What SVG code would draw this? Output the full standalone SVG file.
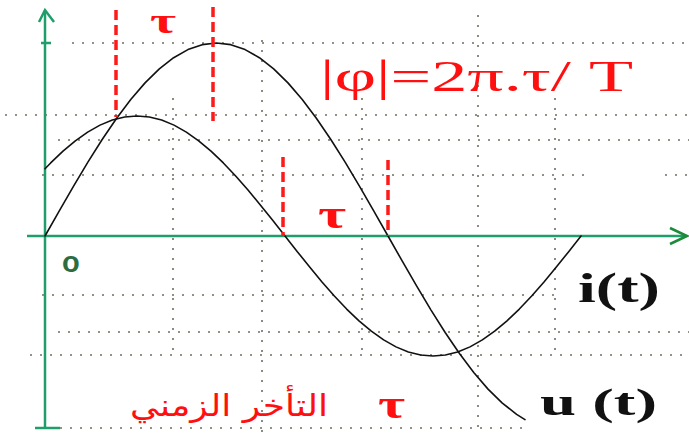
<svg xmlns="http://www.w3.org/2000/svg" width="689" height="433" viewBox="0 0 689 433">
<style>
.grid{stroke:#6f6f60;stroke-width:1.6;stroke-dasharray:2 8;fill:none}
.axis{stroke:#1e9e6a;stroke-width:2.5;fill:none}
.curve{stroke:#111;stroke-width:1.6;fill:none;stroke-linejoin:round;stroke-linecap:round}
.red{stroke:#ff1a1a;stroke-width:3.5;stroke-dasharray:10 5;fill:none}
.tau{font-family:"Liberation Serif",serif;font-weight:bold;font-size:42px;fill:#ff1010}
.lbl{font-family:"Liberation Serif",serif;font-weight:bold;fill:#111}
</style>
<rect width="689" height="433" fill="#fff"/>
<g id="grid">
<line class="grid" x1="72" y1="43" x2="689" y2="43"/>
<line class="grid" x1="5" y1="115" x2="689" y2="115"/>
<line class="grid" x1="58" y1="140" x2="689" y2="140"/>
<line class="grid" x1="42" y1="175" x2="585" y2="175"/>
<line class="grid" x1="665" y1="175" x2="689" y2="175"/>
<line class="grid" x1="42" y1="295" x2="560" y2="295"/>
<line class="grid" x1="58" y1="332" x2="689" y2="332"/>
<line class="grid" x1="30" y1="355" x2="689" y2="355"/>
<line class="grid" x1="60" y1="428" x2="530" y2="428"/>
<line class="grid" x1="173" y1="98" x2="173" y2="358"/>
<line class="grid" x1="262" y1="40" x2="262" y2="433"/>
<line class="grid" x1="362" y1="98" x2="362" y2="358"/>
<line class="grid" x1="478" y1="15" x2="478" y2="433"/>
<line class="grid" x1="555" y1="98" x2="555" y2="358"/>
</g>
<g id="axes">
<line class="axis" x1="45" y1="10" x2="45" y2="428"/>
<polyline class="axis" points="39,22 45,10 54,22"/>
<line class="axis" x1="41" y1="43" x2="51" y2="43"/>
<line class="axis" x1="35" y1="428" x2="60" y2="428"/>
<line class="axis" x1="27" y1="236" x2="686" y2="236"/>
<polyline points="670,228 687,236 670,244" fill="none" stroke="#1d8a3a" stroke-width="2.5"/>
</g>
<g id="u-curve">
<polyline class="curve" points="45,236 59.29,210.81 73.58,186.05 87.88,162.14 102.17,139.5 116.46,118.5 130.75,99.53 145.04,82.87 159.33,68.86 173.63,57.69 187.92,49.58 202.21,44.66 216.5,43 230.79,44.66 245.08,49.58 259.38,57.69 273.67,68.86 287.96,82.87 302.25,99.53 316.54,118.5 330.83,139.5 345.13,162.14 359.42,186.05 373.71,210.81 388,236 402.29,261.19 416.58,285.95 430.88,309.86 445.17,332.5 459.46,353.5 473.75,372.47 488.04,389.13 502.33,403.14 516.63,414.31 525,419.6"/>
</g>
<g id="i-curve">
<polyline class="curve" points="45,168.8 50.67,162.94 63,151.15 75.33,140.79 87.67,132.08 100,125.13 112.33,120.09 124.67,117.03 137,116 149.33,117.03 161.67,120.09 174,125.13 186.33,132.08 198.67,140.79 211,151.15 223.33,162.94 235.67,176 248,190.08 260.33,204.94 272.67,220.34 285,236 297.33,251.66 309.67,267.06 322,281.92 334.33,296 346.67,309.06 359,320.85 371.33,331.21 383.67,339.92 396,346.87 408.33,351.91 420.67,354.97 433,356 445.33,354.97 457.67,351.91 470,346.87 482.33,339.92 494.67,331.21 507,320.85 519.33,309.06 531.67,296 544,281.92 556.33,267.06 568.67,251.66 581,236"/>
</g>
<g id="connectors">
<line class="red" x1="116" y1="10" x2="116" y2="117"/>
<line class="red" x1="213" y1="7" x2="213" y2="121"/>
<line class="red" x1="283" y1="157" x2="283" y2="236"/>
<line class="red" x1="388" y1="160" x2="388" y2="236"/>
</g>
<g id="tau-top"><text class="tau" x="150" y="33" font-size="36" style="font-size:36px" textLength="26" lengthAdjust="spacingAndGlyphs">τ</text></g>
<g id="tau-mid"><text class="tau" x="318" y="228" textLength="28" lengthAdjust="spacingAndGlyphs">τ</text></g>
<g id="tau-bot"><text class="tau" x="378" y="418" textLength="27" lengthAdjust="spacingAndGlyphs">τ</text></g>
<g id="formula"><text x="320" y="91" font-family="Liberation Serif, serif" font-size="44" fill="#ff1010" textLength="313" lengthAdjust="spacingAndGlyphs">|φ|=2π.τ/ T</text></g>
<g id="label-i"><text class="lbl" x="578" y="302" font-size="42" textLength="82" lengthAdjust="spacingAndGlyphs">i(t)</text></g>
<g id="label-u"><text class="lbl" x="540" y="415" font-size="37" textLength="117" lengthAdjust="spacingAndGlyphs">u (t)</text></g>
<g id="origin"><text x="62" y="272" font-family="Liberation Sans, sans-serif" font-weight="bold" font-size="29" fill="#2e6b3e">o</text></g>
<g id="arabic"><text x="229" y="416" text-anchor="middle" direction="rtl" font-family="DejaVu Sans, Noto Sans, sans-serif" font-size="30" fill="#ff1010" textLength="198" lengthAdjust="spacingAndGlyphs">التأخر الزمني</text></g>
</svg>
